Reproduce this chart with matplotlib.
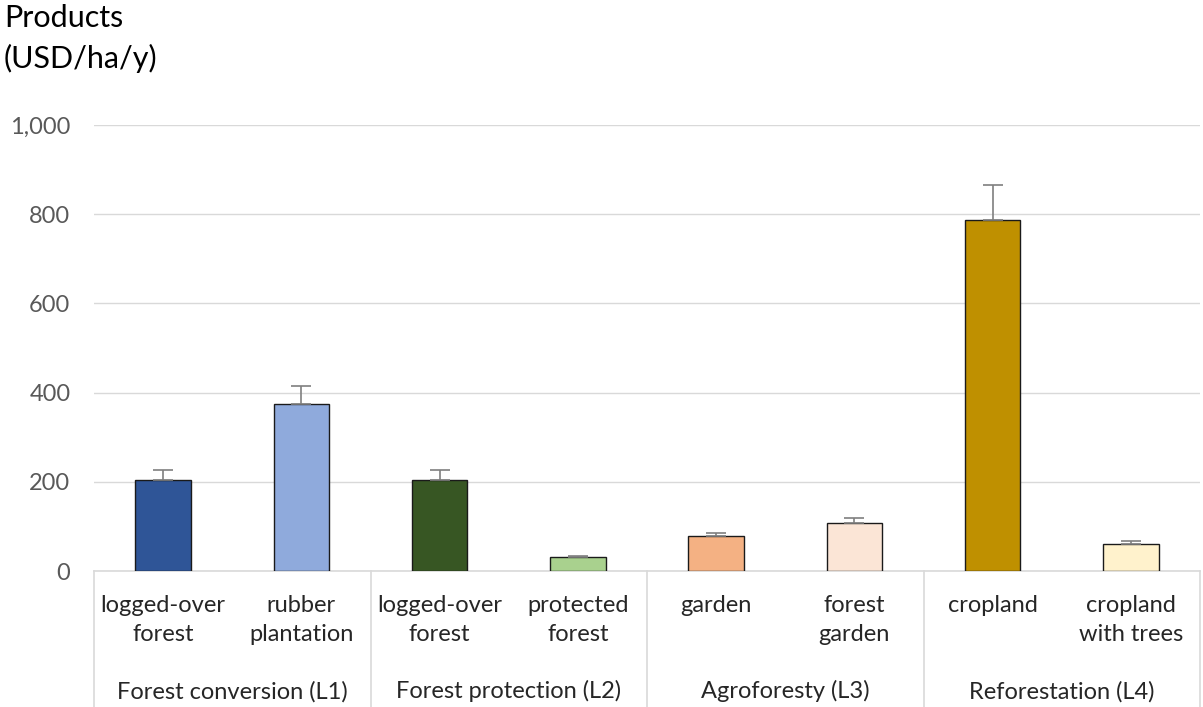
import matplotlib
matplotlib.use("Agg")
import matplotlib.pyplot as plt
import numpy as np

plt.rcParams['font.family'] = ['Lato', 'DejaVu Sans']

# data
categories = ["logged-over\nforest", "rubber\nplantation", "logged-over\nforest", "protected\nforest",
              "garden\n", "forest\ngarden", "cropland\n", "cropland\nwith trees"]
groups = ["Forest conversion (L1)", "Forest protection (L2)", "Agroforesty (L3)", "Reforestation (L4)"]
values = [204, 374, 204, 31, 78, 108, 787, 61]
errors = [22, 41, 22, 3, 7, 11, 79, 6]
colors = ["#2F5597", "#8FAADC", "#375623", "#A9D18E", "#F4B183", "#FBE5D6", "#BF9000", "#FFF2CC"]
yticks = [0, 200, 400, 600, 800, 1000]

fig = plt.figure(figsize=(12.03, 7.07), dpi=100)
ax = fig.add_axes([94/1203, 1 - 571/707, 1106/1203, 446/707])

x = np.arange(len(values))
ax.bar(x, values, width=0.4, color=colors, edgecolor="#1a1a1a", linewidth=1.0, zorder=3)
ax.errorbar(x, values, yerr=[np.zeros(len(errors)), errors], fmt="none", ecolor="#7f7f7f",
            elinewidth=1.2, capsize=7, capthick=1.2, zorder=4)

ax.set_xlim(-0.5, len(values) - 0.5)
ax.set_ylim(0, 1000)
ax.set_yticks(yticks)
ax.set_yticklabels([f"{v:,}" for v in yticks], fontsize=17, color="#595959")
ax.yaxis.grid(True, color="#d9d9d9", linewidth=1.0, zorder=0)
ax.tick_params(axis="y", length=0, pad=17)
ax.set_xticks(x)
ax.set_xticklabels(categories, fontsize=17, color="#262626", linespacing=1.5)
ax.tick_params(axis="x", length=0, pad=17)
for s in ["top", "right", "left"]:
    ax.spines[s].set_visible(False)
ax.spines["bottom"].set_color("#d9d9d9")
ax.spines["bottom"].set_linewidth(1.2)

# group separators and labels
for k in range(len(groups) + 1):
    ax.plot([2 * k - 0.5, 2 * k - 0.5], [0, -0.305], transform=ax.get_xaxis_transform(),
            color="#d9d9d9", linewidth=1.2, clip_on=False)
for k, g in enumerate(groups):
    ax.text(2 * k + 0.5, -0.27, g, transform=ax.get_xaxis_transform(), ha="center", va="center",
            fontsize=17, color="#262626")

fig.text(4/1203, 1 - 4/707, "Products\n(USD/ha/y)", ha="left", va="top", fontsize=22,
         color="#000000", linespacing=1.5)

fig.savefig("out.png", dpi=100)
